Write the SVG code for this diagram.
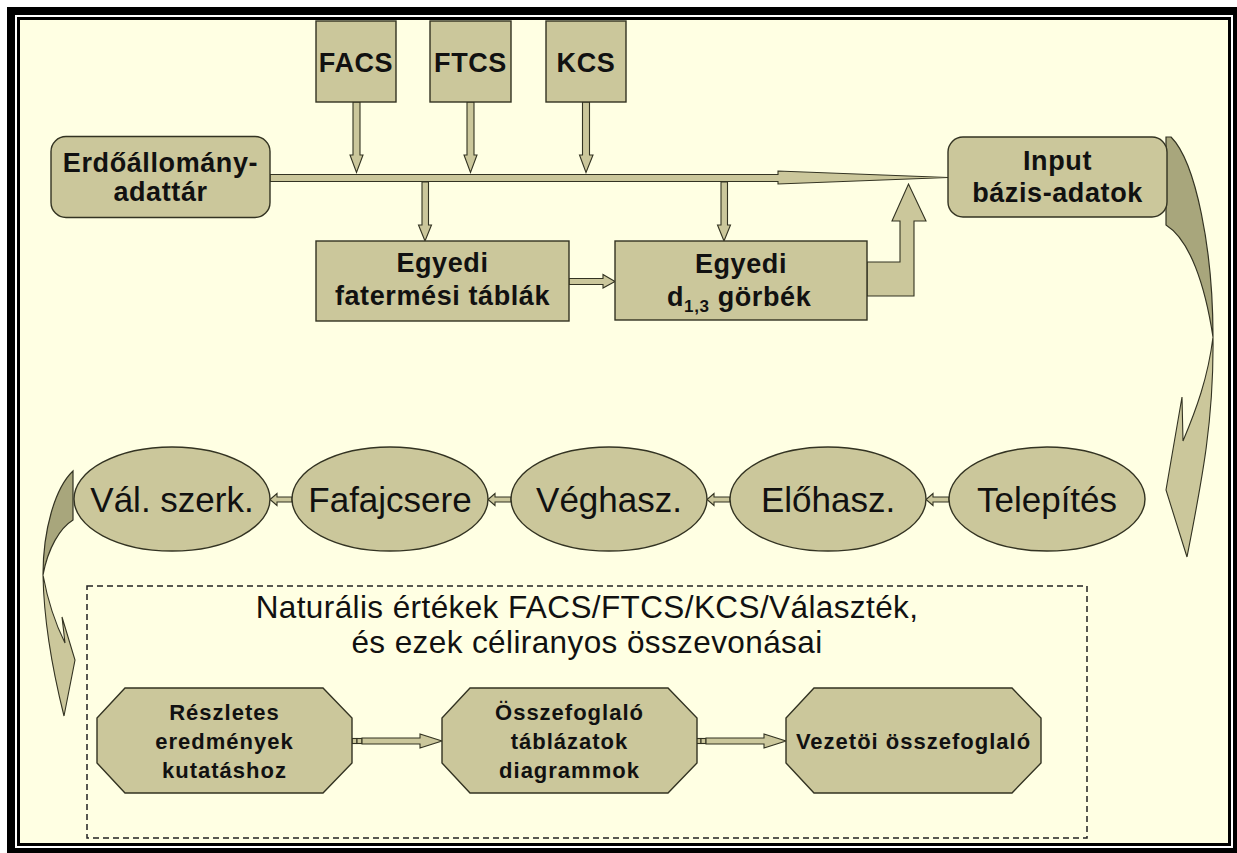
<svg xmlns="http://www.w3.org/2000/svg" width="1237" height="853" viewBox="0 0 1237 853">
<style>
.nd{fill:#CBC79B;stroke:#333322;stroke-width:1.4}
.ar{fill:#CBC79B;stroke:#333322;stroke-width:1.1}
.dk{fill:#A8A67C;stroke:#333322;stroke-width:1.2}
.tb{font-family:"Liberation Sans",Arial,sans-serif;font-weight:bold;font-size:27px;fill:#111;text-anchor:middle;letter-spacing:0.6px}
.te{font-family:"Liberation Sans",Arial,sans-serif;font-size:35px;fill:#111;text-anchor:middle}
.to{font-family:"Liberation Sans",Arial,sans-serif;font-weight:bold;font-size:22px;fill:#111;text-anchor:middle;letter-spacing:1px}
.tt{font-family:"Liberation Sans",Arial,sans-serif;font-size:31.5px;fill:#111;text-anchor:middle;letter-spacing:0.4px}
</style>
<!-- frame -->
<rect x="7" y="7" width="1230" height="846" fill="#000"/>
<rect x="15" y="15" width="1218" height="833" fill="#fff"/>
<rect x="18.5" y="18.5" width="1211" height="826" fill="#FFFFE3" stroke="#000" stroke-width="3"/>

<g id="connectors">
  <path class="ar" d="M353,102 H360 V155 H363 L356.5,172.5 L350,155 H353 Z"/>
  <path class="ar" d="M467,102 H474 V155 H477 L470.5,172.5 L464,155 H467 Z"/>
  <path class="ar" d="M582.5,102 H589.5 V155 H593 L586,172.5 L579.5,155 H582.5 Z"/>
  <path class="ar" d="M270,174.5 H778 V171 L948,177.5 L778,184 V181.5 H270 Z"/>
  <path class="ar" d="M422,182 H428.5 V225 H431.5 L425,241 L418.5,225 H422 Z"/>
  <path class="ar" d="M721,182 H727.5 V225 H730.5 L724,241 L717.5,225 H721 Z"/>
  <path class="ar" d="M569,278.5 H603 V274.5 L615,281.5 L603,288 V284.5 H569 Z"/>
  <path class="ar" d="M867,262 H900 V221 H892 L908.5,184 L926,221 H914 V296 H867 Z"/>
  <path class="dk" d="M1166,137 L1171,137 C1196,162 1213,250 1213,337 C1205,285 1190,240 1166,225 Z"/>
  <path class="ar" d="M1213,337 C1214,420 1202,480 1187,557 L1166,490 L1182,397 L1183,441 C1196,410 1208,378 1213,337 Z"/>
  <path class="ar" d="M949,497 H933 V493.5 L926,499.5 L933,505.5 V502 H949 Z"/>
  <path class="ar" d="M730,497 H714 V493.5 L707,499.5 L714,505.5 V502 H730 Z"/>
  <path class="ar" d="M511,497 H495 V493.5 L488,499.5 L495,505.5 V502 H511 Z"/>
  <path class="ar" d="M292,497 H277 V493.5 L270,499.5 L277,505.5 V502 H292 Z"/>
  <path class="dk" d="M73,471 L73,520 C60,528 48,548 43,575 C43,530 55,488 73,471 Z"/>
  <path class="ar" d="M43,575 C44,630 55,680 64,716 L75,660 L62,617 L65,643 C56,625 48,602 43,575 Z"/>
  <rect class="ar" x="352" y="738.5" width="5" height="5"/>
  <rect class="ar" x="357" y="738.5" width="5" height="5"/>
  <path class="ar" d="M362,738 H420 V734 L442,741 L420,748 V744 H362 Z"/>
  <rect class="ar" x="696" y="738.5" width="5" height="5"/>
  <rect class="ar" x="701" y="738.5" width="5" height="5"/>
  <path class="ar" d="M706,738 H764 V734 L786,741 L764,748 V744 H706 Z"/>
</g>

<g id="facs"><rect class="nd" x="316" y="21" width="80" height="81"/><text class="tb" x="356" y="72">FACS</text></g>
<g id="ftcs"><rect class="nd" x="430" y="21" width="81" height="81"/><text class="tb" x="470.5" y="72">FTCS</text></g>
<g id="kcs"><rect class="nd" x="546" y="21" width="80" height="81"/><text class="tb" x="586" y="72">KCS</text></g>

<g id="erdo"><rect class="nd" x="51" y="136.5" width="219" height="81" rx="15"/><text class="tb" x="160.5" y="172">Erdőállomány-</text><text class="tb" x="160.5" y="201">adattár</text></g>
<g id="input"><rect class="nd" x="948" y="137" width="219" height="80" rx="15"/><text class="tb" x="1057.5" y="170">Input</text><text class="tb" x="1057.5" y="202">bázis-adatok</text></g>

<g id="fatermesi"><rect class="nd" x="316" y="241" width="253" height="80"/><text class="tb" x="442.5" y="272">Egyedi</text><text class="tb" x="442.5" y="305">fatermési táblák</text></g>
<g id="gorbek"><rect class="nd" x="615" y="241" width="252" height="79"/><text class="tb" x="741" y="273">Egyedi</text><text class="tb" x="667" y="306" style="text-anchor:start">d<tspan font-size="17" dy="6">1,3</tspan><tspan dy="-6"> görbék</tspan></text></g>

<g id="valszerk"><ellipse class="nd" cx="172" cy="499" rx="98" ry="52"/><text class="te" x="172" y="512">Vál. szerk.</text></g>
<g id="fafajcsere"><ellipse class="nd" cx="390" cy="499" rx="98" ry="52"/><text class="te" x="390" y="512">Fafajcsere</text></g>
<g id="veghasz"><ellipse class="nd" cx="609" cy="499" rx="98" ry="52"/><text class="te" x="609" y="512">Véghasz.</text></g>
<g id="elohasz"><ellipse class="nd" cx="828" cy="499" rx="98" ry="52"/><text class="te" x="828" y="512">Előhasz.</text></g>
<g id="telepites"><ellipse class="nd" cx="1047" cy="499" rx="98" ry="52"/><text class="te" x="1047" y="512">Telepítés</text></g>

<g id="naturalis">
  <rect x="87" y="586" width="1000" height="252" fill="none" stroke="#222" stroke-width="1.5" stroke-dasharray="6,4"/>
  <text class="tt" x="587" y="618">Naturális értékek FACS/FTCS/KCS/Választék,</text>
  <text class="tt" x="587" y="653">és ezek céliranyos összevonásai</text>
</g>

<g id="reszletes"><path class="nd" d="M125,688 H323 L352,718 V763 L323,793 H125 L97,763 V718 Z"/><text class="to" x="224.5" y="720">Részletes</text><text class="to" x="224.5" y="749">eredmények</text><text class="to" x="224.5" y="778">kutatáshoz</text></g>
<g id="osszefoglalo"><path class="nd" d="M470,688 H668 L697,718 V763 L668,793 H470 L442,763 V718 Z"/><text class="to" x="569.5" y="720">Összefoglaló</text><text class="to" x="569.5" y="749">táblázatok</text><text class="to" x="569.5" y="778">diagrammok</text></g>
<g id="vezetoi"><path class="nd" d="M814,688 H1012 L1041,718 V763 L1012,793 H814 L786,763 V718 Z"/><text class="to" x="913.5" y="749">Vezetöi összefoglaló</text></g>
</svg>
